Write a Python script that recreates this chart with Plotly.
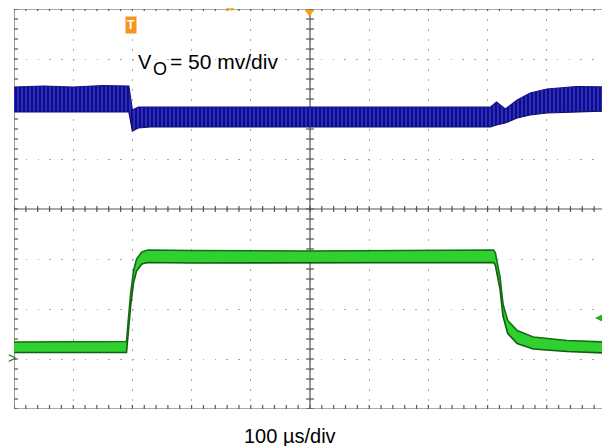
import plotly.graph_objects as go

# ---- data (time in divisions of 100 us, amplitude in screen divisions) ----
vo_t     = [0.0, 0.5, 1.0, 1.5, 1.94, 2.00, 2.10, 2.30, 5.0, 8.05, 8.15, 8.30, 8.50, 8.72, 9.00, 9.50, 10.0]
vo_upper = [6.44, 6.46, 6.44, 6.47, 6.46, 5.98, 6.04, 6.04, 6.04, 6.04, 6.14, 6.00, 6.18, 6.32, 6.40, 6.45, 6.44]
vo_lower = [5.94, 5.94, 5.95, 5.94, 5.94, 5.56, 5.62, 5.64, 5.64, 5.64, 5.68, 5.72, 5.82, 5.88, 5.92, 5.94, 5.96]

io_t     = [0.0, 1.0, 1.90, 1.93, 1.97, 2.02, 2.07, 2.16, 2.26, 3.0, 5.0, 8.10, 8.13, 8.21, 8.26, 8.34, 8.50, 8.77, 9.34, 10.0]
io_upper = [1.34, 1.35, 1.35, 1.77, 2.30, 2.77, 3.00, 3.14, 3.18, 3.17, 3.16, 3.18, 3.13, 2.64, 2.10, 1.77, 1.57, 1.44, 1.37, 1.34]
io_lower = [1.13, 1.13, 1.13, 1.53, 2.06, 2.53, 2.76, 2.90, 2.93, 2.92, 2.92, 2.93, 2.88, 2.40, 1.86, 1.51, 1.31, 1.20, 1.15, 1.12]

vo_label = "= 50 mv/div"
time_label = "100 µs/div"

# ---- geometry (screen pixels; the page body adds an 8 px offset) ----
OFF = 8
W, H = 610 - OFF, 446 - OFF
L, R, T, B = 14, 606, 9, 409
NX, NY = 10, 8
pxx = NX / (R - L)   # divisions per pixel, x
pxy = NY / (B - T)   # divisions per pixel, y

def px2x(px):
    return (px - L) * pxx

def px2y(py):
    return (B - py) * pxy

fig = go.Figure()

# ---- graticule decorations ----
seg_x, seg_y = [], []
def seg(x0, y0, x1, y1):
    seg_x.extend([x0, x1, None])
    seg_y.extend([y0, y1, None])

seg(0, 0, 0, NY)
seg(0, NY, NX, NY)
seg(0, 0, NX, 0)
seg(NX / 2, 0, NX / 2, NY)
seg(0, NY / 2, NX, NY / 2)

k = 0
while k <= NX * 5:
    x = k / 5
    seg(x, NY / 2 - 3 * pxy, x, NY / 2 + 3 * pxy)
    seg(x, 0, x, 4 * pxy)
    seg(x, NY, x, NY - 2 * pxy)
    k += 1
k = 0
while k <= NY * 5:
    y = k / 5
    seg(NX / 2 - 4 * pxx, y, NX / 2 + 4 * pxx, y)
    seg(0, y, 4 * pxx, y)
    seg(NX, y, NX - 4 * pxx, y)
    k += 1

fig.add_trace(go.Scatter(x=seg_x, y=seg_y, mode="lines",
                         line=dict(color="#555555", width=1.2),
                         hoverinfo="skip", showlegend=False, cliponaxis=False))

# ---- V_O trace (blue band with ripple pattern) ----
fig.add_trace(go.Scatter(x=vo_t, y=vo_lower, mode="lines",
                         line=dict(color="#10106a", width=1.2),
                         hoverinfo="skip", showlegend=False))
fig.add_trace(go.Scatter(x=vo_t, y=vo_upper, mode="lines", fill="tonexty",
                         fillcolor="#1c1cb4",
                         fillpattern=dict(shape="|", size=4, solidity=0.4,
                                          fgcolor="#0a0a50", bgcolor="#2828d8",
                                          fillmode="replace"),
                         line=dict(color="#14148a", width=1.2),
                         hoverinfo="skip", showlegend=False))

# ---- current trace (green band) ----
fig.add_trace(go.Scatter(x=io_t, y=io_lower, mode="lines",
                         line=dict(color="#0f5f0f", width=1.6),
                         hoverinfo="skip", showlegend=False))
fig.add_trace(go.Scatter(x=io_t, y=io_upper, mode="lines", fill="tonexty",
                         fillcolor="#2fd02f",
                         line=dict(color="#146e14", width=1.6),
                         hoverinfo="skip", showlegend=False))

# ---- scope markers ----
fig.add_trace(go.Scatter(x=[px2x(10)], y=[px2y(108)], mode="markers",
                         marker=dict(symbol="triangle-right", size=7, color="#2a2ad0"),
                         hoverinfo="skip", showlegend=False, cliponaxis=False))
fig.add_trace(go.Scatter(x=[px2x(309.5)], y=[px2y(12)], mode="markers",
                         marker=dict(symbol="triangle-down", size=9, color="#f5a020"),
                         hoverinfo="skip", showlegend=False, cliponaxis=False))
fig.add_trace(go.Scatter(x=[px2x(228), px2x(232)], y=[px2y(9), px2y(9)], mode="markers",
                         marker=dict(symbol="square", size=3, color="#f5a020"),
                         hoverinfo="skip", showlegend=False, cliponaxis=False))

ann = []
def pa(px):
    return (px - L) / (R - L)
def pb(py):
    return (B - py) / (B - T)

font = "Liberation Sans, Arial, sans-serif"
ann.append(dict(x=pa(131), y=pb(25), xref="paper", yref="paper", text="<b>T</b>",
                showarrow=False, font=dict(family=font, size=12, color="white"),
                bgcolor="#f7941d", borderpad=1, xanchor="center", yanchor="middle"))
ann.append(dict(x=pa(12), y=pb(358), xref="paper", yref="paper", text=">",
                showarrow=False, font=dict(family=font, size=14, color="#1b7a1b"),
                xanchor="center", yanchor="middle"))
# green reference arrow at the right edge
ann.append(dict(x=pa(595), y=pb(318), xref="paper", yref="paper", text="",
                showarrow=True, ax=12, ay=0, axref="pixel", ayref="pixel",
                arrowhead=2, arrowsize=1, arrowwidth=2, arrowcolor="#22b022",
                standoff=0, startstandoff=0))
ann.append(dict(x=pa(136), y=pb(62), xref="paper", yref="paper", text="V",
                showarrow=False, font=dict(family=font, size=20, color="black"),
                xanchor="left", yanchor="middle"))
ann.append(dict(x=pa(151), y=pb(69), xref="paper", yref="paper", text="O",
                showarrow=False, font=dict(family=font, size=18, color="black"),
                xanchor="left", yanchor="middle"))
ann.append(dict(x=pa(168), y=pb(62), xref="paper", yref="paper", text=vo_label,
                showarrow=False, font=dict(family=font, size=21, color="black"),
                xanchor="left", yanchor="middle"))
ann.append(dict(x=pa(290), y=pb(436), xref="paper", yref="paper", text=time_label,
                showarrow=False, font=dict(family=font, size=20, color="black"),
                xanchor="center", yanchor="middle"))

fig.update_layout(
    width=W, height=H,
    margin=dict(l=L - OFF, r=610 - R, t=T - OFF, b=446 - B, autoexpand=False),
    paper_bgcolor="white", plot_bgcolor="white",
    showlegend=False,
    annotations=ann,
    xaxis=dict(range=[0, NX], dtick=1, tick0=0, showgrid=True, gridcolor="#a8a8a8",
               gridwidth=1.3, griddash="1.5px,8.5px", zeroline=False,
               showticklabels=False, ticks="", showline=False, fixedrange=True),
    yaxis=dict(range=[0, NY], dtick=1, tick0=0, showgrid=True, gridcolor="#a8a8a8",
               gridwidth=1.3, griddash="1.5px,10.3px", zeroline=False,
               showticklabels=False, ticks="", showline=False, fixedrange=True),
)

fig.write_html("out.html")
